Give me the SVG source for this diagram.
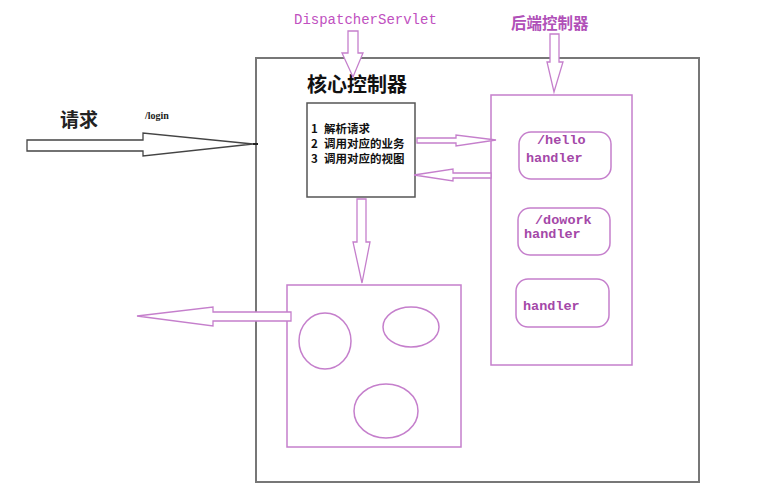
<svg xmlns="http://www.w3.org/2000/svg" width="774" height="499" viewBox="0 0 774 499">
<style>
.p{fill:none;stroke:#c57fcc;stroke-width:1.5}
.pa{fill:#fff;stroke:#c57fcc;stroke-width:1.3}
.g{fill:none;stroke:#777;stroke-width:2}
.mono{font-family:"Liberation Mono","DejaVu Sans Mono",monospace;font-weight:bold;fill:#a448a8;font-size:13.5px}
.cjk{font-family:"Noto Sans CJK SC",sans-serif;font-weight:bold}
.ln{font-size:11.5px;fill:#111}
</style>
<rect width="774" height="499" fill="#fff"/>
<g id="outer"><rect class="g" x="256" y="58" width="443" height="424"/></g>
<g id="request-label">
<text class="cjk" x="60" y="127" font-size="19" fill="#222">请求</text>
<text x="145" y="119" font-family="Liberation Serif,serif" font-weight="bold" font-size="10" fill="#222">/login</text>
</g>
<g id="dispatcher-label"><text x="294" y="24" font-family="Liberation Mono,monospace" font-size="14" fill="#c050c0">DispatcherServlet</text></g>
<g id="backend-label"><text class="cjk" x="511" y="29" font-size="15.5" fill="#b050b8">后端控制器</text></g>
<g id="core">
<text class="cjk" x="307" y="92" font-size="20" fill="#111">核心控制器</text>
<rect x="307" y="103" width="108" height="94" fill="#fff" stroke="#555" stroke-width="1.5"/>
<text class="cjk ln" x="311" y="133">1</text><text class="cjk ln" x="324" y="133">解析请求</text>
<text class="cjk ln" x="311" y="148">2</text><text class="cjk ln" x="324" y="148">调用对应的业务</text>
<text class="cjk ln" x="311" y="163">3</text><text class="cjk ln" x="324" y="163">调用对应的视图</text>
</g>
<g id="handlers">
<rect class="p" x="491" y="95" width="141" height="270"/>
<rect class="p" x="519" y="132" width="92" height="47" rx="12"/>
<text class="mono" x="537" y="144">/hello</text>
<text class="mono" x="526" y="162">handler</text>
<rect class="p" x="518" y="208" width="92" height="47" rx="12"/>
<text class="mono" x="535" y="224">/dowork</text>
<text class="mono" x="524" y="238">handler</text>
<rect class="p" x="516" y="279" width="93" height="48" rx="12"/>
<text class="mono" x="523" y="310">handler</text>
</g>
<g id="view">
<rect class="p" x="287" y="285" width="174" height="162"/>
<ellipse class="p" cx="325" cy="341" rx="26" ry="28"/>
<ellipse class="p" cx="411" cy="327" rx="28" ry="20"/>
<ellipse class="p" cx="386" cy="411" rx="32" ry="27"/>
</g>
<g id="connectors">
<polygon points="27,140 143,140 143,133 253,144 143,156 143,151 27,151" fill="#fff" stroke="#444" stroke-width="1.3"/>
<line x1="253" y1="144" x2="258" y2="144" stroke="#222" stroke-width="2"/>
<polygon class="pa" points="348,31 358,31 358,53 363,53 353,77 342,53 348,53"/>
<polygon class="pa" points="550,34 559,34 559,62 563,62 554,92 547,62 550,62"/>
<polygon class="pa" points="417,138 456,138 456,135 496,140 456,146 456,143 417,143"/>
<polygon class="pa" points="491,173 453,173 453,169 414,175 453,181 453,178 491,178"/>
<polygon class="pa" points="357,199 366,199 366,242 370,242 362,283 353,242 357,242"/>
<polygon class="pa" points="291,312 213,312 213,307 137,316 213,326 213,321 291,321"/>
</g>
</svg>
